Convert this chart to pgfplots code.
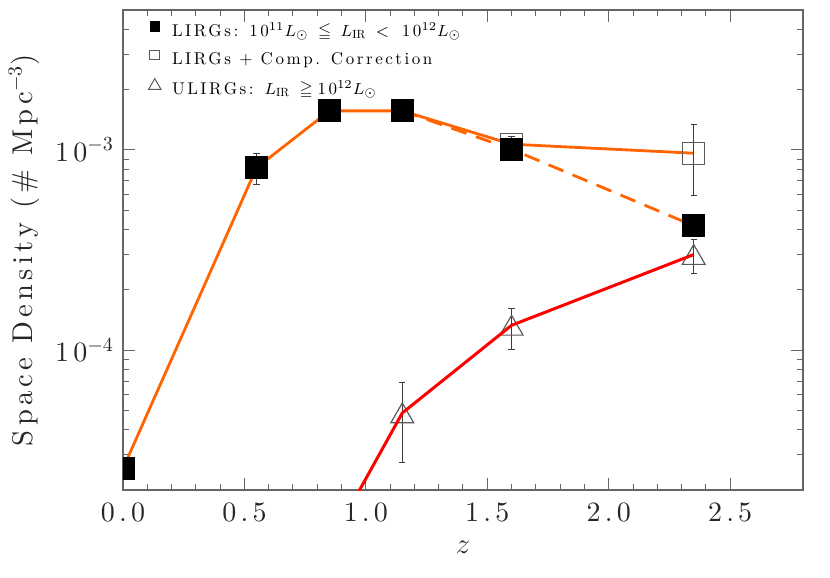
\documentclass[border=0pt]{standalone}
\usepackage{amssymb}
\usepackage{fontspec}
\setmainfont{lmroman10-regular.otf}[LetterSpace=15, ItalicFont=lmroman10-italic.otf, BoldFont=lmroman10-bold.otf]
\usepackage{pgfplots}
\pgfplotsset{compat=1.18}
\definecolor{lirgorange}{RGB}{255,100,0}
\definecolor{ebar}{RGB}{60,60,60}
\definecolor{opengray}{RGB}{90,90,90}
\begin{document}
\begin{tikzpicture}
\begin{axis}[
    name=ax,
    scale only axis,
    width=340pt, height=240pt,
    xmin=0, xmax=2.8,
    ymode=log, ymin=2e-5, ymax=5e-3,
    xtick={0,0.5,1,1.5,2,2.5},
    xticklabels={0.0,0.5,1.0,1.5,2.0,2.5},
    minor x tick num=4,
    ytick={1e-4,1e-3},
    yticklabels={10$^{-4}$,10$^{-3}$},
    minor ytick={2e-5,3e-5,4e-5,5e-5,6e-5,7e-5,8e-5,9e-5,2e-4,3e-4,4e-4,5e-4,6e-4,7e-4,8e-4,9e-4,2e-3,3e-3,4e-3},
    major tick length=6pt, minor tick length=3pt,
    tick style={black!60, line width=0.5pt},
    axis line style={black!60, line width=0.6pt},
    tick label style={font=\fontsize{14}{14}\selectfont, black!85},
    xticklabel style={yshift=-3pt},
    yticklabel style={xshift=-1pt},
    xlabel={$z$},
    xlabel style={at={(axis description cs:0.5,0)}, anchor=center, yshift=-28.5pt, font=\fontsize{14}{14}\selectfont, black!85},
    ylabel={Space Density (\# Mpc$^{-3}$)},
    ylabel style={at={(axis description cs:-0.1456,0.5)}, anchor=center, font=\fontsize{14.3}{14.3}\selectfont, black!85},
    clip marker paths=true,
    legend cell align=left,
    legend style={draw=none, fill=none, at={(axis description cs:0.037,1)}, anchor=north west,
        yshift=-5.5pt, inner sep=0pt, row sep=5pt, column sep=5.5pt,
        font=\fontsize{8.5}{10}\selectfont,
        nodes={inner sep=0pt, text height=6pt, text depth=2pt}},
]
% legend
\addlegendimage{legend image code/.code={\draw[black, fill=black, mark=square*, mark size=2.4pt] plot coordinates {(0pt,2.9pt)};}}
\addlegendentry{LIRGs: 10$^{11}L_\odot\;\leqq\;L_{\mathrm{IR}}\;<\;$ 10$^{12}L_\odot$}
\addlegendimage{legend image code/.code={\draw[opengray, mark=square, mark size=2.4pt, line width=0.5pt] plot coordinates {(0pt,2.9pt)};}}
\addlegendentry{LIRGs + Comp. Correction}
\addlegendimage{legend image code/.code={\draw[opengray, mark=triangle, mark size=3.6pt, line width=0.5pt] plot coordinates {(0pt,2.2pt)};}}
\addlegendentry{ULIRGs: $L_{\mathrm{IR}}\;\geqq\;$10$^{12}L_\odot$}

% LIRG lines
\addplot[lirgorange, line width=1.4pt, forget plot] coordinates {
    (0,2.56e-5) (0.55,8.15e-4) (0.85,1.567e-3) (1.15,1.567e-3) (1.6,1.068e-3) (2.35,9.63e-4)};
\addplot[lirgorange, line width=1.4pt, dash pattern=on 8pt off 5pt, forget plot] coordinates {
    (1.15,1.567e-3) (1.6,1.008e-3) (2.35,4.18e-4)};

% error bars
\addplot[forget plot, draw=none, mark=none,
    error bars/.cd, y dir=both, y explicit,
    error mark options={rotate=90, draw=ebar, mark size=1.6pt, line width=0.5pt},
    error bar style={draw=ebar, line width=0.5pt}]
    table[x=x, y=y, y error plus=ep, y error minus=em] {
    x     y         ep        em
    0.55  8.15e-4   1.48e-4   1.41e-4
    1.6   1.068e-3  0.098e-3  0.098e-3
    2.35  9.63e-4   3.70e-4   3.69e-4
    1.15  4.85e-5   2.07e-5   2.09e-5
    1.6   1.33e-4   0.286e-4  0.322e-4
    2.35  3.0e-4    0.58e-4   0.58e-4
};

% open squares (completeness corrected)
\addplot[forget plot, only marks, mark=square, mark size=5.5pt, opengray, line width=0.6pt] coordinates {
    (1.6,1.068e-3) (2.35,9.63e-4)};
% filled squares (LIRGs)
\addplot[forget plot, only marks, mark=square*, mark size=5.5pt, black] coordinates {
    (0,2.56e-5) (0.55,8.15e-4) (0.85,1.567e-3) (1.15,1.567e-3) (1.6,1.008e-3) (2.35,4.18e-4)};
% triangles (ULIRGs)
\addplot[forget plot, only marks, mark=triangle, mark size=6.6pt, opengray, line width=0.6pt,
    mark options={yshift=-1.6pt}] coordinates {
    (1.15,4.85e-5) (1.6,1.33e-4) (2.35,3.0e-4)};
% ULIRG line
\addplot[forget plot, red, line width=1.5pt] coordinates {
    (0.85,1.07e-5) (1.15,4.85e-5) (1.6,1.33e-4) (2.35,3.0e-4)};
\end{axis}
\path ([shift={(-61.5pt,-44pt)}]ax.south west) rectangle ([shift={(13.5pt,5pt)}]ax.north east);
\end{tikzpicture}
\end{document}
